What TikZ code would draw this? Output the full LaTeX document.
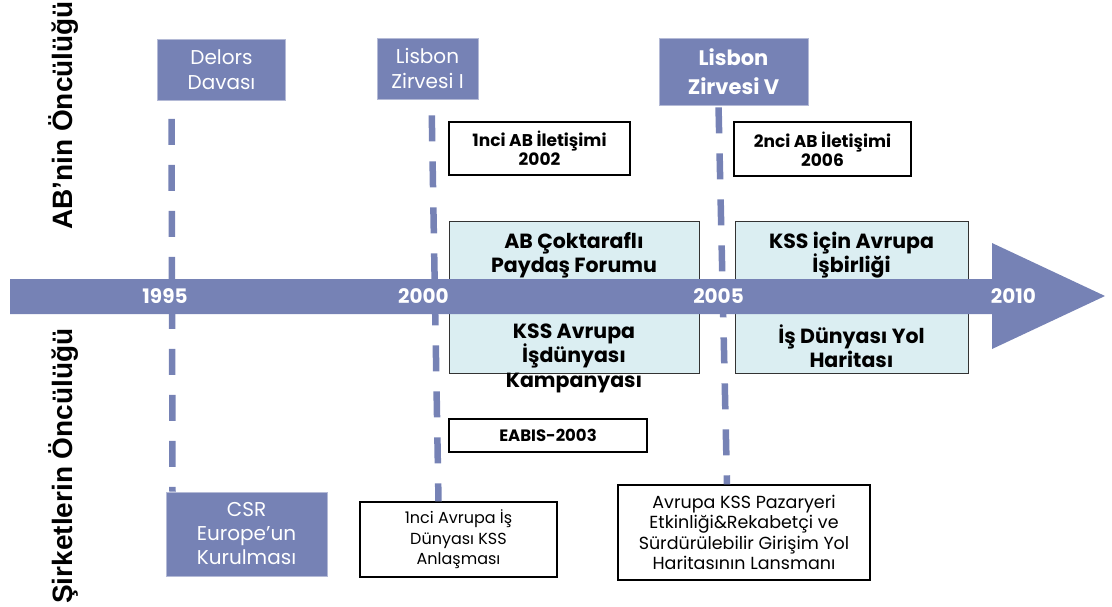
\documentclass[tikz,border=0pt]{standalone}
\usepackage{fontspec}
\newfontfamily\gothic{Poppins}
\newfontfamily\sidefont{Liberation Sans}
\usetikzlibrary{positioning,calc}

\definecolor{slate}{RGB}{118,130,181}
\definecolor{paleblue}{RGB}{219,238,242}

\begin{document}
\begin{tikzpicture}[x=1pt,y=-1pt]

  % --- styles ---
  \tikzset{
    % slate boxes for the summits and founding events
    eventbox/.style={
      fill=slate,
      draw=slate!55!white,
      line width=0.8pt,
      text=white,
      align=center,
      inner sep=0pt,
      font=\gothic\fontsize{20}{25}\selectfont
    },
    % white boxes with a black frame
    notebox/.style={
      draw=black,
      line width=1.2pt,
      fill=white,
      text=black,
      align=center,
      inner sep=0pt
    },
    notebold/.style={font=\gothic\bfseries\fontsize{17}{19}\selectfont},
    notelight/.style={font=\gothic\fontsize{16}{20.5}\selectfont},
    % pale boxes that the time axis runs through
    stakebox/.style={draw=black!80, line width=1pt, fill=paleblue, inner sep=0pt},
    staketext/.style={align=center, inner sep=0pt, font=\gothic\bfseries\fontsize{20.5}{24.5}\selectfont},
    yearlabel/.style={text=white, inner sep=0pt, font=\gothic\bfseries\fontsize{20}{20}\selectfont},
    sidelabel/.style={rotate=90, anchor=base west, inner sep=0pt, font=\sidefont\bfseries\fontsize{28}{28}\selectfont},
    milestone/.style={draw=slate, line width=6.5pt, dash pattern=on 26pt off 20pt}
  }

  \useasboundingbox (0,0) rectangle (1112,606);

  % --- top row: summits ---
  \node[eventbox, minimum width=128pt, minimum height=61pt] (delors) at (221.5,70) {Delors\\Davası};
  \node[eventbox, minimum width=101pt, minimum height=61pt] (lisbonI) at (427.5,68.5) {Lisbon\\Zirvesi I};
  \node[eventbox, minimum width=149pt, minimum height=67pt,
        font=\gothic\bfseries\fontsize{21}{29}\selectfont] (lisbonV) at (733.5,71.5) {Lisbon\\Zirvesi V};

  % --- communications ---
  \node[notebox, notebold, minimum width=181pt, minimum height=53pt] (ilet1) at (539.5,148.5) {1nci AB İletişimi\\2002};
  \node[notebox, notebold, minimum width=177pt, minimum height=54pt] (ilet2) at (822.5,149) {2nci AB İletişimi\\2006};

  % --- boxes on the axis ---
  \node[stakebox, minimum width=250pt, minimum height=152pt] (forum) at (574,297) {};
  \node[stakebox, minimum width=233pt, minimum height=152pt] (isbir) at (851.5,297) {};

  % --- bottom row ---
  \node[notebox, notebold, font=\gothic\bfseries\fontsize{16.5}{19}\selectfont,
        minimum width=198pt, minimum height=33pt] (eabis) at (548,435.5) {EABIS-2003};
  \node[eventbox, minimum width=161pt, minimum height=84pt,
        font=\gothic\fontsize{20}{24}\selectfont] (csr) at (246.5,534) {CSR\\Europe’un\\Kurulması};
  \node[notebox, notelight, minimum width=197pt, minimum height=75pt] (anlasma) at (458.5,539.5) {1nci Avrupa İş\\Dünyası KSS\\Anlaşması};
  \node[notebox, notelight, font=\gothic\fontsize{17.5}{20.5}\selectfont,
        minimum width=252pt, minimum height=95pt] (pazar) at (744,532.5) {Avrupa KSS Pazaryeri\\Etkinliği\&Rekabetçi ve\\Sürdürülebilir Girişim Yol\\Haritasının Lansmanı};

  % --- dashed milestone lines ---
  \draw[milestone, dash phase=28pt] ([xshift=-50pt]delors.south) -- ([xshift=-74pt]csr.north);
  \draw[milestone, dash phase=30pt] ([xshift=4pt]lisbonI.south) -- ([xshift=-20pt]anlasma.north);
  \draw[milestone, dash phase=44pt] ([xshift=-15pt]lisbonV.south) -- ([xshift=-17pt]pazar.north);

  % --- time axis ---
  \fill[slate] (10,279) -- (992,279) -- (992,243) -- (1105,296) -- (992,349) -- (992,314) -- (10,314) -- cycle;

  \node[yearlabel] (y1995) at (165,296) {1995};
  \node[yearlabel] (y2000) at (423.5,296) {2000};
  \node[yearlabel] (y2005) at (718.5,296) {2005};
  \node[yearlabel] (y2010) at (1013.5,296) {2010};

  % texts over the pale boxes
  \node[staketext] (forumtop) at (574,255) {AB Çoktaraflı\\Paydaş Forumu};
  \node[staketext] (forumbot) at (574,358) {KSS Avrupa\\İşdünyası\\Kampanyası};
  \node[staketext] (isbirtop) at (851.5,255) {KSS için Avrupa\\İşbirliği};
  \node[staketext] (isbirbot) at (851.5,346) {İş Dünyası Yol\\Haritası};

  % --- side labels ---
  \node[sidelabel] (ablabel) at (72,230) {AB’nin Öncülüğü};
  \node[sidelabel] (firmlabel) at (72,604) {Şirketlerin Öncülüğü};

\end{tikzpicture}
\end{document}
